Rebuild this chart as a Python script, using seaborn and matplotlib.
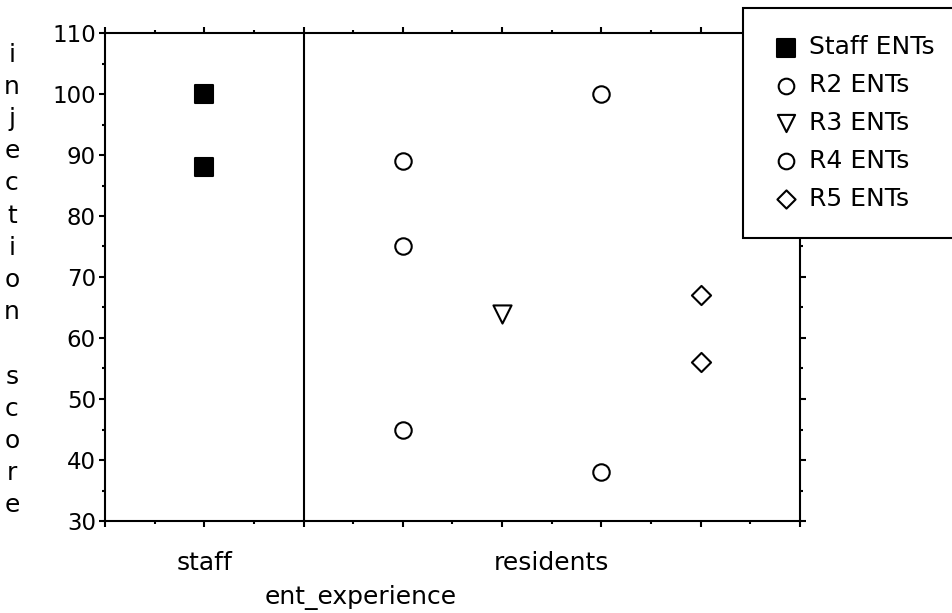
import matplotlib
matplotlib.use("Agg")
import matplotlib.pyplot as plt
from matplotlib.ticker import MultipleLocator, FixedLocator, FixedFormatter
import seaborn as sns
import pandas as pd

# Injection scores by ENT experience group
group_names = ["Staff ENTs", "R2 ENTs", "R3 ENTs", "R4 ENTs", "R5 ENTs"]
staff_scores = [100, 88]
r2_scores = [89, 75, 45]
r3_scores = [64]
r4_scores = [100, 38]
r5_scores = [67, 56]

# Slot of each group along the horizontal axis
group_slots = [1, 3, 4, 5, 6]

# Experience categories and their label positions
category_labels = ["staff", "residents"]
category_centers = [1, 4.5]
category_divider = 2

group_markers = ["s", "o", "v", "o", "D"]
group_sizes = [180, 140, 170, 140, 95]
group_faces = ["black", "white", "white", "white", "white"]

sns.set_theme(style="ticks")
plt.rcParams["font.family"] = ["DejaVu Sans"]
plt.rcParams["text.color"] = "black"
FS = 18
YFS = 16.5

all_scores = [staff_scores, r2_scores, r3_scores, r4_scores, r5_scores]
df = pd.DataFrame({
    "group": [g for g, sc in zip(group_names, all_scores) for _ in sc],
    "slot": [p for p, sc in zip(group_slots, all_scores) for _ in sc],
    "score": [v for sc in all_scores for v in sc],
})

fig = plt.figure(figsize=(9.53, 6.13), dpi=100)
ax = fig.add_axes([105 / 953, 92 / 613, 695 / 953, 488 / 613])

for name, marker, size, face in zip(group_names, group_markers, group_sizes, group_faces):
    sub = df[df["group"] == name]
    sns.scatterplot(data=sub, x="slot", y="score", marker=marker, s=size,
                    facecolor=face, edgecolor="black", linewidth=1.5,
                    label=name, ax=ax, zorder=3)

ax.axvline(category_divider, color="black", lw=1.5, zorder=2)

ax.set_xlim(0, 7)
ax.set_ylim(30, 110)

# x ticks: integer majors, half-step minors; category names on the centres
ax.xaxis.set_major_locator(FixedLocator(range(0, 8)))
ax.xaxis.set_minor_locator(FixedLocator([i + 0.5 for i in range(7)]))
major_lbls = ["" for _ in range(8)]
minor_lbls = ["" for _ in range(7)]
for lbl, c in zip(category_labels, category_centers):
    if float(c).is_integer():
        major_lbls[int(c)] = lbl
    else:
        minor_lbls[int(c - 0.5)] = lbl
ax.xaxis.set_major_formatter(FixedFormatter(major_lbls))
ax.xaxis.set_minor_formatter(FixedFormatter(minor_lbls))

ax.yaxis.set_major_locator(MultipleLocator(10))
ax.yaxis.set_minor_locator(MultipleLocator(5))

for s in ax.spines.values():
    s.set_visible(True)
    s.set_linewidth(1.5)
    s.set_color("black")

ax.tick_params(which="both", direction="out", top=True, right=True,
               color="black", width=1.5, labelcolor="black")
ax.tick_params(which="major", length=4.5)
ax.tick_params(which="minor", length=2.5)
ax.tick_params(axis="x", which="both", labelsize=FS)
ax.tick_params(axis="x", which="major", pad=17)
ax.tick_params(axis="x", which="minor", pad=19)
ax.tick_params(axis="y", which="major", labelsize=YFS, pad=2)

ax.set_xlabel("ent_experience", fontsize=FS, color="black")
ax.xaxis.set_label_coords((361 - 105) / 695, (521 - 597) / 488)
ax.xaxis.label.set_va("center")

ax.set_ylabel("\n".join("injection score"), fontsize=FS, color="black",
              rotation=0, ha="center", va="center", linespacing=1.43)
ax.yaxis.set_label_coords((12 - 105) / 695, (521 - 280) / 488)

leg = ax.legend(loc="upper left", bbox_to_anchor=((743 - 105) / 695, (521 - 8) / 488),
                frameon=True, fancybox=False, framealpha=1, edgecolor="black",
                fontsize=FS, borderpad=1.1, handlelength=1.25, handletextpad=0.3,
                labelspacing=0.55, borderaxespad=0, scatterpoints=1, markerscale=0.95)
leg.get_frame().set_linewidth(1.5)
for t in leg.get_texts():
    t.set_color("black")
leg.set_zorder(10)

fig.savefig("out.png", dpi=100)
